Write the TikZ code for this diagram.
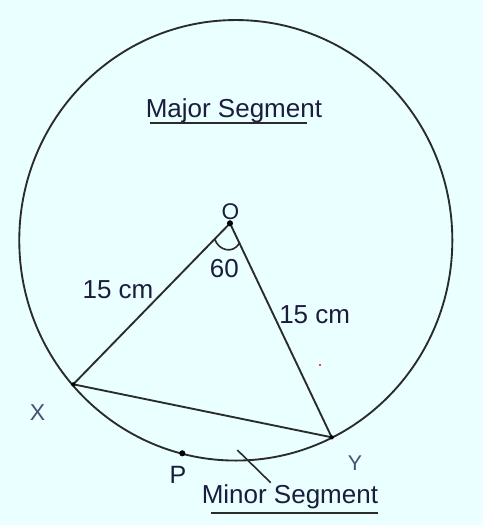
\documentclass[tikz,border=0pt]{standalone}
\usepackage{fontspec}
\setmainfont{Liberation Sans}
\usetikzlibrary{calc}
\definecolor{bgc}{RGB}{234,255,255}
\definecolor{lncol}{RGB}{43,43,43}
\definecolor{txt}{RGB}{28,28,60}
\definecolor{txtxy}{RGB}{74,80,112}
\begin{document}
\begin{tikzpicture}[x=0.75pt,y=-0.75pt,
  ln/.style={draw=lncol, line width=1.4pt},
  lbl/.style={text=txt, inner sep=0pt, font=\fontsize{19.5}{22}\selectfont},
  dotmark/.style={fill=black}]
\fill[bgc] (0,0) rectangle (483,525);
\useasboundingbox (0,0) rectangle (483,525);
% points
\coordinate (C) at (235.8,240.3);
\coordinate (O) at (230,223.3);
\coordinate (X) at (73.3,384.3);
\coordinate (Y) at (331.7,437.3);
\coordinate (P) at (182.3,453.3);
% circle
\draw[ln] (C) ellipse [x radius=162.4pt, y radius=165.2pt];
% triangle sides
\draw[ln] (O) -- (X);
\draw[ln] (O) -- (Y);
\draw[ln] (X) -- (Y);
% angle mark
\coordinate (a1) at ($(O)!0.098!(X)$);
\coordinate (a2) at ($(O)!0.093!(Y)$);
\draw[ln, line width=1.2pt] (a1) .. controls (219,251) and (233,254) .. (a2);
% dots
\fill[dotmark] (O) circle (2.3pt);
\fill[dotmark] (X) circle (1.6pt);
\fill[dotmark] (Y) circle (1.6pt);
\fill[dotmark] (P) circle (2.3pt);
\fill[red] (320,365) circle (0.9pt);
% labels
\node[lbl, anchor=base west] (maj) at (145.5,117.3) {Major Segment};
\coordinate (majL) at (150,123.3);
\coordinate (majR) at (306.7,123.3);
\draw[ln] (majL) -- (majR);
\node[lbl, anchor=base west] (min) at (201.5,503.3) {Minor Segment};
\coordinate (minL) at (211,513.3);
\coordinate (minR) at (377.7,513.3);
\draw[ln] (minL) -- (minR);
\coordinate (ptA) at (237.3,450);
\coordinate (ptB) at (270.7,482.7);
\draw[ln, line width=1.2pt] (ptA) -- (ptB);
\node[lbl, anchor=base west] (r1) at (82.3,298.3) {15 cm};
\node[lbl, anchor=base west] (r2) at (279,323.3) {15 cm};
\node[lbl, anchor=base west] (ang) at (209.7,277.3) {60};
\node[lbl, anchor=base, font=\fontsize{17}{20}\selectfont] (Ol) at (230.5,219) {O};
\node[lbl, anchor=base, text=txtxy, font=\fontsize{17.25}{20}\selectfont] (Xl) at (37.5,420) {X};
\node[lbl, anchor=base, text=txtxy, font=\fontsize{16}{19}\selectfont] (Yl) at (355,470) {Y};
\node[lbl, anchor=base, font=\fontsize{18.75}{22}\selectfont] (Pl) at (178,483.3) {P};
\end{tikzpicture}
\end{document}
